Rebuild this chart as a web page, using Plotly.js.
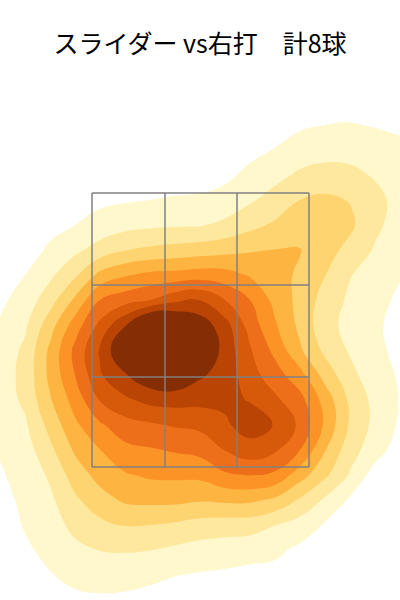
<!DOCTYPE html>
<html>
<head>
<meta charset="utf-8">
<script src="https://cdn.plot.ly/plotly-3.0.1.min.js"></script>
<style>html,body{margin:0;padding:0;background:#fff}#chart{width:400px;height:600px}</style>
</head>
<body>
<div id="chart"></div>
<script>
const titleText = "スライダー vs右打　計8球";
const gridX = [0,25,50,75,100,125,150,175,200,225,250,275,300,325,350,375,400];
const gridY = [100,125,150,175,200,225,250,275,300,325,350,375,400,425,450,475,500,525,550,575,600];
const density = [
[0,0,.02,.05,.08,.1,.15,.15,.15,.2,.35,.45,.55,.6,.6,.55,.5],
[0,.02,.08,.15,.2,.25,.32,.35,.35,.45,.6,.75,.85,1,1.05,.95,.85],
[0,.08,.2,.32,.4,.47,.55,.58,.58,.66,.78,1.03,1.45,1.6,1.65,1.4,1.2],
[.05,.2,.38,.52,.6,.68,.73,.75,.78,.82,1.2,1.7,2.17,2.4,2.25,1.9,1.5],
[.1,.35,.58,.75,.78,.9,1,1.05,1.08,1.3,1.87,2.4,3,3.2,2.95,2.3,1.65],
[.2,.55,.82,1,1.4,1.67,1.8,1.88,1.92,2.25,2.72,3.15,3.5,3.4,3.2,2.2,1.6],
[.35,.7,1.1,1.78,2.4,2.95,3.2,3.35,3.5,3.67,3.9,4.02,4.05,3.4,2.7,1.9,1.35],
[.55,1,1.8,2.82,4.3,4.9,5.25,5.33,5.5,5.4,4.9,4.35,3.85,3.03,2.05,1.55,1.05],
[.8,1.42,2.57,4.2,6,6.57,7,7.75,8.05,7,6,4.7,3.7,2.6,1.82,1.28,.85],
[1.1,1.83,3.55,5.47,7.25,8.9,11,10.5,9.6,8.4,6.55,5.12,3.75,2.35,1.7,1.13,.75],
[1.35,2.2,4.2,6.25,8.1,10.2,11.5,11.5,10.3,8.6,7.1,5.72,4.15,2.75,1.88,1.18,.8],
[1.5,2.3,4.25,6,7.9,8.9,9.8,10,9.15,8.6,7.4,6.45,5.35,3.6,2.3,1.4,.9],
[1.45,2.2,3.9,5.4,7.05,7.8,8.3,8.4,8.3,8.2,7.95,7.2,6.35,4.6,2.8,1.7,.95],
[1.3,1.85,3.33,4.8,5.85,6.6,6.85,7.1,7.25,7.85,8.45,7.95,6.8,4.8,2.85,1.72,.85],
[1.08,1.55,2.75,4.15,4.98,5.7,5.9,6.1,6.3,7.03,7.6,7.15,6,4.05,2.4,1.45,.5],
[.9,1.35,2.15,3.47,4.35,4.9,5.15,5.2,5.25,5.85,6.05,5.8,4.45,3.2,1.9,.55,.35],
[.7,1.2,1.8,2.83,3.6,4.15,4.25,4.25,4.1,4.2,4.2,3.8,2.87,1.85,.85,.4,.2],
[.55,1.07,1.55,2.28,2.75,3.05,3,2.85,2.6,2.5,2.45,2.02,1.55,.9,.5,.25,.15],
[.4,.85,1.25,1.75,2.02,2.08,2.02,1.8,1.6,1.47,1.35,1.2,.8,.55,.3,.15,.08],
[.25,.6,.95,1.25,1.4,1.38,1.25,1.03,.92,.85,.75,.7,.5,.3,.15,.08,.03],
[.15,.4,.65,.8,.85,.8,.65,.55,.5,.45,.4,.35,.25,.15,.05,.03,.01]
];
const zoneX = [92,165,237,309];
const zoneY = [193,285,377,467];
const bandColors = ["#ffffff","#fff8cd","#fee89e","#fed471","#feb441","#fc9327","#ee6f19","#d75a0a","#b94404","#852d04"];

const colorscale = bandColors.map((c,i)=>[i/(bandColors.length-1),c]);
const contour = {
  type:"contour", x:gridX, y:gridY, z:density,
  autocontour:false,
  contours:{start:1,end:9,size:1,coloring:"fill",showlines:false},
  line:{width:0,smoothing:1.3},
  colorscale, showscale:false, hoverinfo:"skip"
};
const zx=[], zy=[];
zoneX.forEach(x=>{zx.push(x,x,null);zy.push(zoneY[0],zoneY[zoneY.length-1],null);});
zoneY.forEach(y=>{zx.push(zoneX[0],zoneX[zoneX.length-1],null);zy.push(y,y,null);});
const zone = {type:"scatter",mode:"lines",x:zx,y:zy,line:{color:"#808080",width:1.5},hoverinfo:"skip",showlegend:false};
const layout = {
  width:400,height:600,margin:{l:0,r:0,t:0,b:0},
  paper_bgcolor:"#fff",plot_bgcolor:"#fff",showlegend:false,
  title:{text:titleText,x:0.5,xanchor:"center",xref:"paper",y:1-44/600,yanchor:"middle",yref:"container",
         font:{family:"'Noto Sans CJK JP',sans-serif",size:25,color:"#000"}},
  xaxis:{range:[0,400],visible:false,fixedrange:true},
  yaxis:{range:[600,0],visible:false,fixedrange:true}
};
Plotly.newPlot("chart",[contour,zone],layout,{displayModeBar:false,staticPlot:true});
</script>
</body>
</html>
